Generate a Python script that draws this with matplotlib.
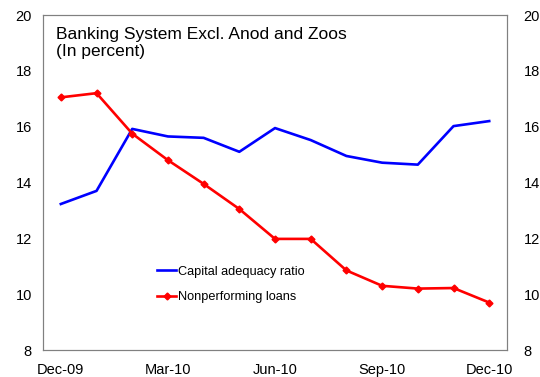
import matplotlib.pyplot as plt

months = ["Dec-09", "Jan-10", "Feb-10", "Mar-10", "Apr-10", "May-10", "Jun-10",
          "Jul-10", "Aug-10", "Sep-10", "Oct-10", "Nov-10", "Dec-10"]
capital_adequacy = [13.23, 13.7, 15.92, 15.65, 15.6, 15.1, 15.95,
                    15.52, 14.95, 14.71, 14.64, 16.02, 16.2]
npl = [17.05, 17.2, 15.75, 14.8, 13.95, 13.05, 11.98,
       11.98, 10.85, 10.3, 10.2, 10.22, 9.7]
tick_labels = ["Dec-09", "Mar-10", "Jun-10", "Sep-10", "Dec-10"]

plt.rcParams["font.family"] = ["Liberation Sans", "DejaVu Sans"]

fig = plt.figure(figsize=(5.4, 3.77), dpi=100)
ax = fig.add_axes([0.0796, 0.0716, 0.8594, 0.8886])

x = list(range(len(months)))
ax.plot(x, capital_adequacy, color="#0000ff", linewidth=1.9,
        label="Capital adequacy ratio")
ax.plot(x, npl, color="#ff0000", linewidth=1.9, marker="D", markersize=3.5,
        label="Nonperforming loans")

ax.set_xlim(-0.5, 12.5)
ax.set_ylim(8, 20)
ax.set_xticks([months.index(t) for t in tick_labels])
ax.set_xticklabels(tick_labels)
ax.set_yticks(range(8, 21, 2))
ax.tick_params(axis="both", length=0, labelsize=10.5, colors="black")
ax.tick_params(axis="x", pad=9)
ax.tick_params(axis="y", pad=8)

ax2 = ax.twinx()
ax2.set_ylim(8, 20)
ax2.set_yticks(range(8, 21, 2))
ax2.tick_params(axis="y", length=0, labelsize=10.5, pad=12)

for a in (ax, ax2):
    for s in a.spines.values():
        s.set_color("#808080")
        s.set_linewidth(0.8)

ax.text(0.028, 0.965, "Banking System Excl. Anod and Zoos\n(In percent)",
        transform=ax.transAxes, ha="left", va="top", fontsize=12.5,
        linespacing=1.15)

ax.legend(loc="lower left", bbox_to_anchor=(0.235, 0.125), frameon=False,
          fontsize=9.2, handlelength=1.5, handletextpad=0.15, labelspacing=1.05,
          borderaxespad=0)

fig.savefig("out.png", dpi=100)
